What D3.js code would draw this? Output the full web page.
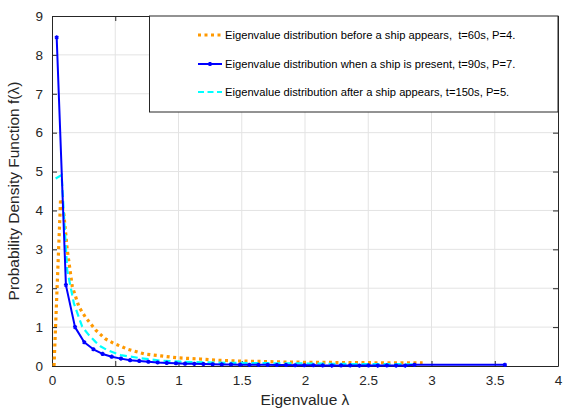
<!DOCTYPE html>
<html><head><meta charset="utf-8">
<script src="https://cdn.jsdelivr.net/npm/d3@7"></script>
<style>body{margin:0;background:#fff}svg{display:block}text{font-family:"Liberation Sans",Arial,sans-serif}</style>
</head><body><svg id="c" width="566" height="408"></svg>
<script>
const xTicks = [0,0.5,1,1.5,2,2.5,3,3.5,4];
const yTicks = [0,1,2,3,4,5,6,7,8,9];

const beforeX = [0.016,0.068,0.094,0.120,0.160,0.213,0.265,0.344,0.42,0.49,0.60,0.73,0.86,0.99,1.17,1.30,1.45,1.60,1.80,2.00,2.25,2.50,2.75,2.93];
const beforeY = [0.00,4.30,3.90,3.00,2.05,1.52,1.25,0.93,0.70,0.58,0.43,0.31,0.26,0.21,0.18,0.15,0.13,0.12,0.105,0.095,0.09,0.085,0.08,0.08];

const presentX = [0.037,0.110,0.182,0.255,0.327,0.400,0.472,0.545,0.617,0.690,0.762,0.835,0.907,0.980,1.052,1.125,1.197,1.270,1.342,1.415,1.487,1.560,1.632,1.705,1.777,1.850,1.922,1.995,2.067,2.140,2.212,2.285,2.357,2.430,2.502,2.575,2.647,2.720,2.792,2.865,3.580];
const presentY = [8.45,2.08,1.00,0.61,0.43,0.31,0.24,0.19,0.15,0.13,0.11,0.09,0.08,0.07,0.06,0.055,0.05,0.045,0.04,0.04,0.035,0.03,0.03,0.03,0.025,0.025,0.02,0.02,0.02,0.015,0.01,0.015,0.015,0.01,0.015,0.01,0.015,0.01,0.01,0.03,0.03];

const afterX = [0.029,0.076,0.12,0.173,0.239,0.29,0.344,0.386,0.436,0.543,0.70,0.85,1.02,1.30,1.60,2.00,2.40,2.85];
const afterY = [4.82,4.91,2.47,1.61,1.01,0.80,0.62,0.50,0.41,0.28,0.20,0.14,0.11,0.085,0.075,0.065,0.05,0.045];

const legendLabels = [
  "Eigenvalue distribution before a ship appears,  t=60s, P=4.",
  "Eigenvalue distribution when a ship is present, t=90s, P=7.",
  "Eigenvalue distribution after a ship appears, t=150s, P=5."
];

const svg = d3.select("#c");
const L = 52, R = 558, T = 16, B = 366;
const x = d3.scaleLinear().domain([0,4]).range([L,R]);
const y = d3.scaleLinear().domain([0,9]).range([B,T]);
const axCol = "#262626";

// grid
svg.append("g").selectAll("line").data(xTicks.slice(1,-1)).join("line")
  .attr("x1",d=>x(d)).attr("x2",d=>x(d)).attr("y1",T).attr("y2",B)
  .attr("stroke","#e3e3e3").attr("stroke-width",1);
svg.append("g").selectAll("line").data(yTicks.slice(1,-1)).join("line")
  .attr("y1",d=>y(d)).attr("y2",d=>y(d)).attr("x1",L).attr("x2",R)
  .attr("stroke","#e3e3e3").attr("stroke-width",1);

// axes
const xa = svg.append("g").attr("transform",`translate(0,${B})`)
  .call(d3.axisBottom(x).tickValues(xTicks).tickFormat(d3.format("~g")).tickSizeInner(-5).tickSizeOuter(0).tickPadding(9));
const ya = svg.append("g").attr("transform",`translate(${L},0)`)
  .call(d3.axisLeft(y).tickValues(yTicks).tickSizeInner(-5).tickSizeOuter(0).tickPadding(9));
const xt = svg.append("g").attr("transform",`translate(0,${T})`)
  .call(d3.axisTop(x).tickValues(xTicks).tickFormat("").tickSizeInner(-5).tickSizeOuter(0));
const yr = svg.append("g").attr("transform",`translate(${R},0)`)
  .call(d3.axisRight(y).tickValues(yTicks).tickFormat("").tickSizeInner(-5).tickSizeOuter(0));
[xa,ya,xt,yr].forEach(g=>{
  g.select(".domain").attr("stroke",axCol).attr("stroke-width",1);
  g.selectAll(".tick line").attr("stroke",axCol);
  g.selectAll(".tick text").attr("fill",axCol).attr("font-size",13.5);
});

// lines
const line = d3.line().x(d=>x(d[0])).y(d=>y(d[1]));
const gPlot = svg.append("g");
gPlot.append("path").datum(d3.zip(beforeX,beforeY)).attr("d",line)
  .attr("fill","none").attr("stroke","#ff9900").attr("stroke-width",3.2).attr("stroke-dasharray","3,3.5");
gPlot.append("path").datum(d3.zip(afterX,afterY)).attr("d",line)
  .attr("fill","none").attr("stroke","#00ffff").attr("stroke-width",2.2).attr("stroke-dasharray","7,4");
gPlot.append("path").datum(d3.zip(presentX,presentY)).attr("d",line)
  .attr("fill","none").attr("stroke","#0000ff").attr("stroke-width",2).attr("stroke-linejoin","round");
const star = d3.symbol().type(d3.symbolAsterisk).size(12);
gPlot.selectAll("path.m").data(d3.zip(presentX,presentY)).join("path").attr("class","m")
  .attr("d",star).attr("transform",d=>`translate(${x(d[0])},${y(d[1])})`)
  .attr("fill","none").attr("stroke","#0000ff").attr("stroke-width",1.6);

// legend
const lg = svg.append("g");
lg.append("rect").attr("x",149.5).attr("y",T).attr("width",R-149.5).attr("height",96)
  .attr("fill","#fff").attr("stroke",axCol).attr("stroke-width",1);
const rowsY = [35,64,92];
const styles = [
  {c:"#ff9900",w:3.2,da:"3,3.5"},
  {c:"#0000ff",w:2,da:null},
  {c:"#00ffff",w:2.2,da:"6,3.5"}
];
legendLabels.forEach((t,i)=>{
  const s = styles[i];
  lg.append("line").attr("x1",198).attr("x2",222).attr("y1",rowsY[i]).attr("y2",rowsY[i])
    .attr("stroke",s.c).attr("stroke-width",s.w).attr("stroke-dasharray",s.da);
  if(i===1) lg.append("path").attr("d",star).attr("transform",`translate(210,${rowsY[i]})`)
    .attr("fill","none").attr("stroke",s.c).attr("stroke-width",1.6);
  lg.append("text").attr("x",225).attr("y",rowsY[i]).attr("dy","0.35em")
    .attr("font-size",11.2).attr("fill","#000").style("white-space","pre").text(t);
});

// axis labels
svg.append("text").attr("x",(L+R)/2).attr("y",405).attr("text-anchor","middle")
  .attr("font-size",15.5).attr("fill",axCol).text("Eigenvalue λ");
svg.append("text").attr("transform",`translate(19,${(T+B)/2}) rotate(-90)`).attr("text-anchor","middle")
  .attr("font-size",15.5).attr("fill",axCol).text("Probability Density Function f(λ)");
</script></body></html>
